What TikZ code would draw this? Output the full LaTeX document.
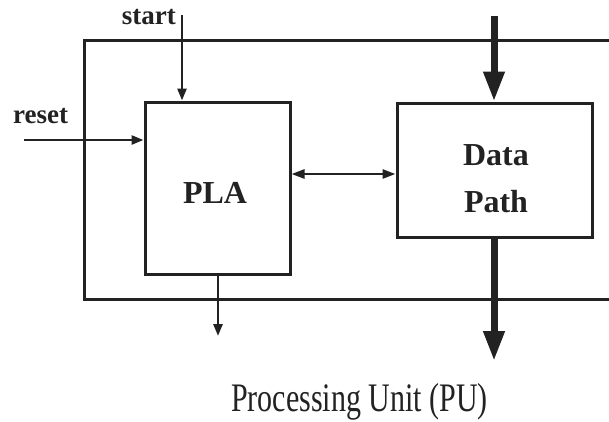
\documentclass[tikz,border=0pt]{standalone}
\usepackage{fontspec}
\setmainfont{Liberation Serif}
\usetikzlibrary{arrows.meta}

\definecolor{ink}{HTML}{222222}

\tikzset{
  block/.style={draw=ink, line width=3pt, rectangle, inner sep=0pt},
  sig/.style={draw=ink, line width=2.6pt, -{Triangle[length=12pt,width=9pt]}},
  bus/.style={draw=ink, line width=7pt, -{Triangle[length=30pt,width=20pt]}},
  biarrow/.style={draw=ink, line width=2.6pt,
    {Triangle[length=13pt,width=9pt]}-{Triangle[length=13pt,width=9pt]}},
  lbl/.style={text=ink, inner sep=0pt, font=\bfseries\fontsize{32}{38}\selectfont},
  pin/.style={text=ink, inner sep=0pt, font=\bfseries\fontsize{27}{32}\selectfont},
}

\begin{document}
\begin{tikzpicture}[x=1pt,y=-1pt]
  \useasboundingbox (0,0) rectangle (609,421);
  \clip (0,0) rectangle (609,421);
  \fill[white] (0,0) rectangle (609,421);

  % enclosing unit (runs off to the right)
  \node[block, minimum width=536pt, minimum height=259pt] (pu) at (352,169.5) {};

  % controller and datapath blocks
  \node[block, minimum width=145pt, minimum height=172pt] (pla) at (217.5,188) {};
  \node[block, minimum width=195pt, minimum height=134pt] (dp) at (494.5,170) {};

  \node[lbl, anchor=base] (plat) at (215,203) {PLA};
  \node[lbl, anchor=base] (dpt1) at (496,165) {Data};
  \node[lbl, anchor=base] (dpt2) at (496,212) {Path};

  % external control inputs
  \coordinate (startin) at (182,15);
  \coordinate (resetin) at (24,140);
  \node[pin, anchor=base east] (startl) at (176,24) {start};
  \node[pin, anchor=base west] (resetl) at (13,123) {reset};
  \draw[sig] (startin) -- (startin |- pla.north);
  \draw[sig] (resetin) -- (resetin -| pla.west);

  % controller output
  \coordinate (plaout) at (218,336);
  \draw[sig] (plaout |- pla.south) -- (plaout);

  % handshake between controller and datapath
  \coordinate (hs) at (0,174);
  \draw[biarrow] (pla.east |- hs) -- (dp.west |- hs);

  % datapath buses
  \coordinate (dpin) at (494,16);
  \coordinate (dpout) at (494,361);
  \draw[bus] (dpin) -- (dpin |- dp.north);
  \draw[bus] (dpout |- dp.south) -- (dpout);

  % caption
  \node[text=ink, inner sep=0pt, anchor=base, font=\fontsize{30}{36}\selectfont]
    (cap) at (359.5,411) {\scalebox{1}[1.35]{Processing Unit (PU)}};
\end{tikzpicture}
\end{document}
